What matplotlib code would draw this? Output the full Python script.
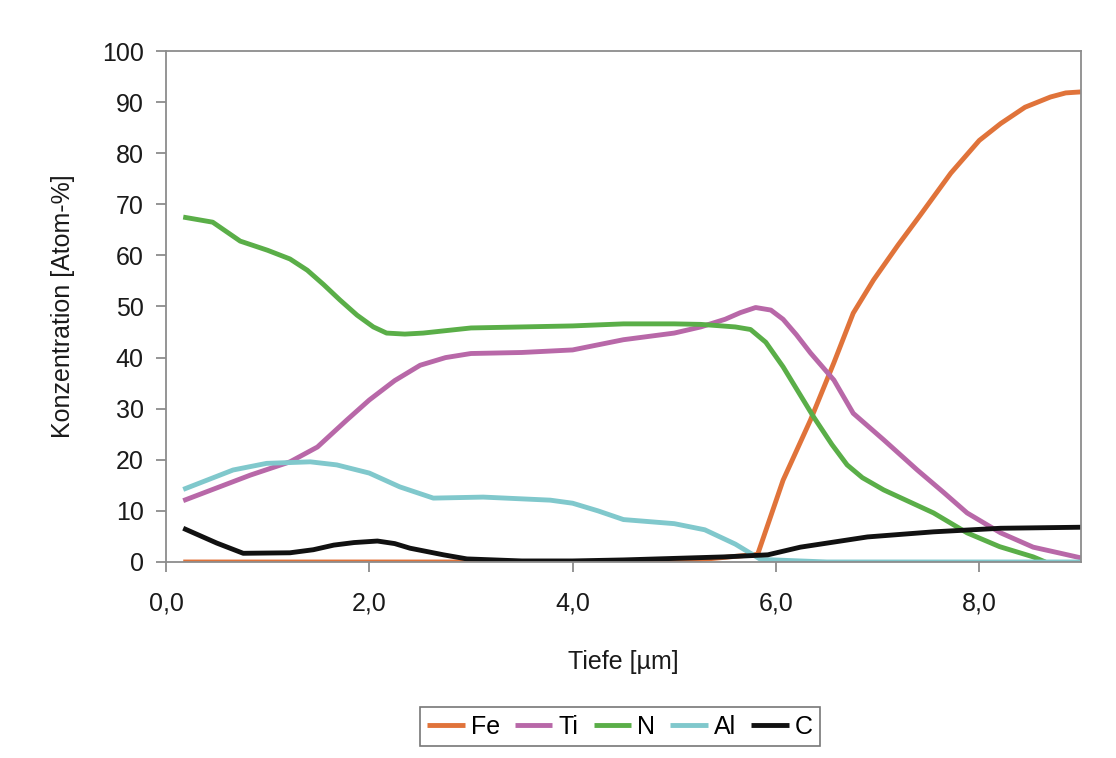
import numpy as np
import matplotlib.pyplot as plt
from matplotlib.ticker import FuncFormatter

plt.rcParams['font.family'] = ['Liberation Sans', 'DejaVu Sans']

# Tiefe [um] / Konzentration [Atom-%]
fe_x = [0.17, 1.0, 2.0, 3.0, 4.0, 5.0, 5.82, 6.07, 6.34, 6.57, 6.76, 6.96, 7.2, 7.42, 7.72, 8.0, 8.21, 8.45, 8.7, 8.85, 9.0]
fe_y = [0.0, 0.0, 0.0, 0.0, 0.0, 0.0, 1.5, 16.0, 27.8, 39.0, 48.7, 55.2, 62.0, 67.9, 76.1, 82.5, 85.8, 89.0, 91.0, 91.8, 92.0]

ti_x = [0.17, 0.83, 1.22, 1.49, 1.78, 2.0, 2.25, 2.5, 2.75, 3.0, 3.5, 4.0, 4.5, 5.0, 5.26, 5.5, 5.65, 5.8, 5.95,
        6.07, 6.2, 6.34, 6.57, 6.76, 7.06, 7.39, 7.65, 7.88, 8.21, 8.53, 8.8, 9.0]
ti_y = [12.0, 17.0, 19.6, 22.5, 27.8, 31.7, 35.5, 38.5, 40.0, 40.8, 41.0, 41.5, 43.5, 44.8, 46.0, 47.5, 48.8, 49.8, 49.3,
        47.5, 44.5, 40.9, 35.6, 29.1, 23.9, 18.0, 13.6, 9.6, 5.7, 2.9, 1.7, 0.8]

n_x = [0.17, 0.46, 0.73, 1.0, 1.22, 1.39, 1.55, 1.71, 1.88, 2.04, 2.17, 2.35, 2.53, 3.0, 3.5, 4.0, 4.5, 5.0, 5.26, 5.6,
       5.75, 5.9, 6.07, 6.37, 6.55, 6.7, 6.85, 7.06, 7.55, 7.88, 8.2, 8.53, 8.65]
n_y = [67.5, 66.5, 62.8, 61.0, 59.3, 57.1, 54.3, 51.3, 48.3, 46.0, 44.8, 44.6, 44.8, 45.8, 46.0, 46.2, 46.6, 46.6, 46.5, 46.0,
       45.5, 43.0, 38.2, 28.4, 23.0, 19.0, 16.5, 14.1, 9.6, 5.7, 3.0, 1.0, 0.0]

al_x = [0.17, 0.66, 0.99, 1.42, 1.68, 2.0, 2.3, 2.63, 3.12, 3.78, 4.0, 4.25, 4.5, 5.0, 5.3, 5.6, 5.85, 6.5, 9.0]
al_y = [14.2, 18.0, 19.3, 19.6, 19.0, 17.4, 14.7, 12.5, 12.7, 12.1, 11.5, 10.0, 8.3, 7.5, 6.3, 3.5, 0.5, 0.0, 0.0]

c_x = [0.17, 0.5, 0.76, 1.22, 1.45, 1.65, 1.85, 2.08, 2.25, 2.4, 2.73, 2.96, 3.5, 4.0, 4.5, 5.0, 5.5, 5.92, 6.24, 6.9,
       7.55, 8.21, 9.0]
c_y = [6.6, 3.7, 1.7, 1.8, 2.4, 3.3, 3.8, 4.1, 3.6, 2.7, 1.4, 0.6, 0.2, 0.2, 0.4, 0.7, 1.0, 1.4, 2.9, 4.9,
       5.9, 6.6, 6.8]

series = [("Fe", fe_x, fe_y, "#e0733a"),
          ("Ti", ti_x, ti_y, "#b868a8"),
          ("N", n_x, n_y, "#5aae48"),
          ("Al", al_x, al_y, "#80c8cc"),
          ("C", c_x, c_y, "#111111")]

fig = plt.figure(figsize=(11.16, 7.58), dpi=100)
ax = fig.add_axes([0.1487, 0.2586, 0.8199, 0.6741])

for name, xs, ys, col in series:
    ax.plot(xs, ys, color=col, lw=3.5, label=name, solid_capstyle='butt', solid_joinstyle='round')

ax.set_xlim(0, 9)
ax.set_ylim(0, 100)
ax.set_xticks([0, 2, 4, 6, 8])
ax.set_yticks(range(0, 101, 10))
ax.xaxis.set_major_formatter(FuncFormatter(lambda v, p: f"{v:.1f}".replace(".", ",")))

for sp in ax.spines.values():
    sp.set_color("#8c8c8c")
    sp.set_linewidth(1.3)
ax.tick_params(axis='both', direction='out', length=7, width=1.3, color="#8c8c8c",
               labelsize=18, labelcolor="#1a1a1a")
ax.tick_params(axis='x', pad=14)
ax.tick_params(axis='y', pad=9)

ax.set_xlabel("Tiefe [µm]", fontsize=18, color="#1a1a1a", labelpad=25)
ax.set_ylabel("Konzentration [Atom-%]", fontsize=18, color="#1a1a1a", labelpad=19)

leg = fig.legend(loc='center', bbox_to_anchor=(0.5556, 0.041), ncol=5, fontsize=18,
                 frameon=True, fancybox=False, handlelength=1.5, handletextpad=0.25,
                 columnspacing=0.6, borderpad=0.3)
leg.get_frame().set_edgecolor("#555555")
leg.get_frame().set_linewidth(1.2)

fig.savefig("out.png", dpi=100)
